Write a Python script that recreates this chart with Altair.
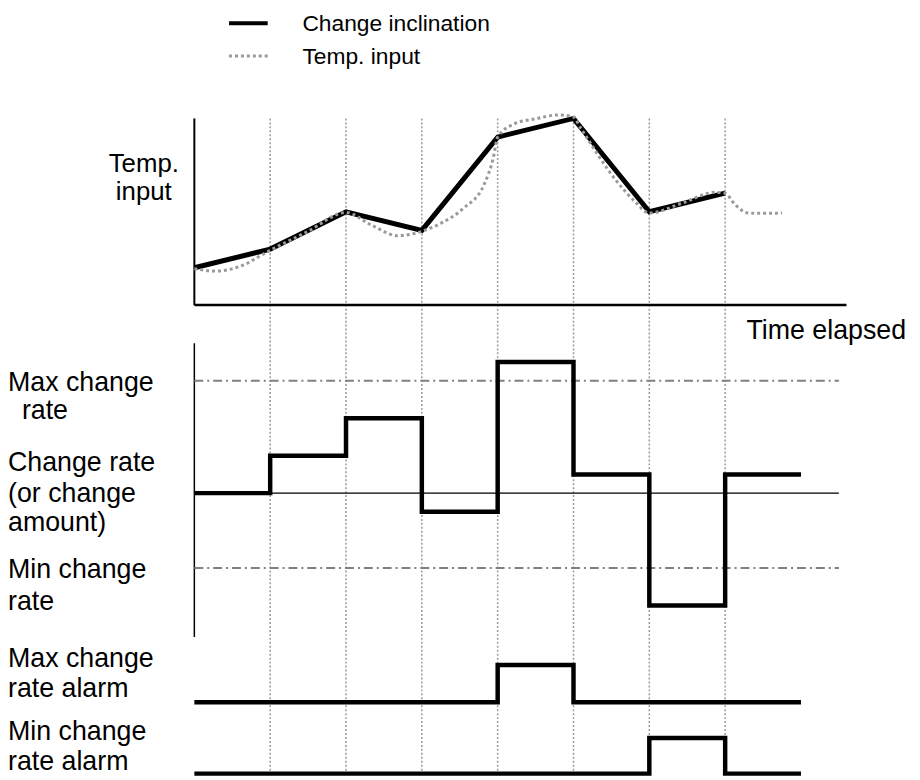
import altair as alt
import pandas as pd

# ---------------- data ----------------
knot_time = [0, 1, 2, 3, 4, 5, 6, 7]
inclination_temp = [20, 30, 50, 40, 90, 100, 50, 60]

input_time = [0, 0.3, 0.61, 1.0, 1.5, 2.0, 2.33, 2.68, 3.0, 3.25, 3.55, 3.82, 3.94, 4.0,
              4.22, 4.5, 4.8, 5.0, 5.1, 5.54, 5.81, 6.0, 6.43, 6.87, 7.0, 7.13, 7.31, 7.5, 7.75]
input_temp = [19.5, 18.2, 20.9, 29.4, 39.5, 49.6, 43.0, 37.2, 39.5, 43.8, 51.9, 64.5, 78.5, 90.0,
              97.1, 99.8, 101.9, 100.7, 94.5, 67.9, 55.5, 49.3, 54.6, 60.4, 59.9, 53.9, 49.3, 49.2, 49.3]

step_time = [0, 1, 2, 3, 4, 5, 6, 7, 8]
change_rate = [0, 1, 2, -0.5, 3.5, 0.5, -3, 0.5, 0.5]
max_alarm = [0, 0, 0, 0, 1, 0, 0, 0, 0]
min_alarm = [0, 0, 0, 0, 0, 0, 1, 0, 0]

max_change_rate = 3
min_change_rate = -2
grid_time = [1, 2, 3, 4, 5, 6, 7]
time_end = 8.5
axis_end = 8.6

legend_labels = ["Change inclination", "Temp. input"]

# ---------------- layout (page px -> plot px) ----------------
OFF = 8
FONT = "Liberation Sans"
FS = 27
FS_LEG = 23
X0 = 196
DX = 76.5


def p(v):
    return v - OFF


xscale = alt.Scale(domain=[0, 8], range=[p(X0), p(X0 + 8 * DX)], nice=False, zero=False)
temp_scale = alt.Scale(domain=[0, 100], range=[p(304.3), p(116)], nice=False, zero=False)
rate_scale = alt.Scale(domain=[-4, 4], range=[p(494 + 4 * 37.77), p(494 - 4 * 37.77)], nice=False, zero=False)
a1_scale = alt.Scale(domain=[0, 1], range=[p(705), p(667.5)], nice=False, zero=False)
a2_scale = alt.Scale(domain=[0, 1], range=[p(777), p(741)], nice=False, zero=False)


def X(f):
    return alt.X(f, type="quantitative", scale=xscale, axis=None)


# grid
grid = alt.Chart(pd.DataFrame({"t": grid_time})).mark_rule(
    color="#9a9a9a", strokeWidth=1.5, strokeDash=[2, 2]
).encode(x=X("t"), y=alt.value(p(116)), y2=alt.value(p(780)))

# top panel
top_yaxis = alt.Chart(pd.DataFrame({"t": [0], "lo": [0], "hi": [100]})).mark_rule(
    color="black", strokeWidth=2).encode(
    x=X("t"), y=alt.Y("lo:Q", scale=temp_scale, axis=None), y2="hi:Q")
top_xaxis = alt.Chart(pd.DataFrame({"t": [0], "t2": [axis_end], "v": [0]})).mark_rule(
    color="black", strokeWidth=2.5).encode(
    x=X("t"), x2="t2:Q", y=alt.Y("v:Q", scale=temp_scale, axis=None))
incl_line = alt.Chart(pd.DataFrame({"t": knot_time, "temp": inclination_temp})).mark_line(
    color="black", strokeWidth=5).encode(
    x=X("t"), y=alt.Y("temp:Q", scale=temp_scale, axis=None))
input_line = alt.Chart(pd.DataFrame({"t": input_time, "temp": input_temp})).mark_line(
    color="#9a9a9a", strokeWidth=3, strokeDash=[3, 3], interpolate="monotone").encode(
    x=X("t"), y=alt.Y("temp:Q", scale=temp_scale, axis=None))

# middle panel
mid_axis = alt.Chart(pd.DataFrame({"t": [0], "lo": [-3.84], "hi": [4.0]})).mark_rule(
    color="black", strokeWidth=1.5).encode(
    x=X("t"), y=alt.Y("lo:Q", scale=rate_scale, axis=None), y2="hi:Q")
limits = alt.Chart(pd.DataFrame({"t": [0, 0], "t2": [time_end, time_end],
                                 "r": [max_change_rate, min_change_rate]})).mark_rule(
    color="#808080", strokeWidth=2, strokeDash=[9, 4, 2, 4]).encode(
    x=X("t"), x2="t2:Q", y=alt.Y("r:Q", scale=rate_scale, axis=None))
zero_line = alt.Chart(pd.DataFrame({"t": [0], "t2": [time_end], "r": [0]})).mark_rule(
    color="black", strokeWidth=1.5).encode(
    x=X("t"), x2="t2:Q", y=alt.Y("r:Q", scale=rate_scale, axis=None))
rate_line = alt.Chart(pd.DataFrame({"t": step_time, "r": change_rate})).mark_line(
    color="black", strokeWidth=4.5, interpolate="step-after").encode(
    x=X("t"), y=alt.Y("r:Q", scale=rate_scale, axis=None))

# alarms
alarm1 = alt.Chart(pd.DataFrame({"t": step_time, "a": max_alarm})).mark_line(
    color="black", strokeWidth=4.5, interpolate="step-after").encode(
    x=X("t"), y=alt.Y("a:Q", scale=a1_scale, axis=None))
alarm2 = alt.Chart(pd.DataFrame({"t": step_time, "a": min_alarm})).mark_line(
    color="black", strokeWidth=4.5, interpolate="step-after").encode(
    x=X("t"), y=alt.Y("a:Q", scale=a2_scale, axis=None))

# legend swatches
leg_black = alt.Chart(pd.DataFrame({"a": [p(231)], "b": [p(270)], "y": [p(20)]})).mark_rule(
    color="black", strokeWidth=4).encode(
    x=alt.X("a:Q", scale=None), x2="b:Q", y=alt.Y("y:Q", scale=None))
leg_gray = alt.Chart(pd.DataFrame({"a": [p(231)], "b": [p(270)], "y": [p(53)]})).mark_rule(
    color="#9a9a9a", strokeWidth=3, strokeDash=[3, 3]).encode(
    x=alt.X("a:Q", scale=None), x2="b:Q", y=alt.Y("y:Q", scale=None))

# texts (page coordinates, alphabetic baseline)
legend_text = [
    (legend_labels[0], 305, 28),
    (legend_labels[1], 305, 61),
]
left_text = [
    ("Time elapsed", 753, 339),
    ("Max change", 8, 391),
    ("rate", 22, 419),
    ("Change rate", 8, 472),
    ("(or change", 8, 503),
    ("amount)", 8, 532),
    ("Min change", 8, 580),
    ("rate", 8, 612),
    ("Max change", 8, 669),
    ("rate alarm", 8, 700),
    ("Min change", 8, 743),
    ("rate alarm", 8, 773),
]
center_text = [
    ("Temp.", 145, 170),
    ("input", 145, 198),
]


def tdf(rows):
    return pd.DataFrame({"txt": [r[0] for r in rows],
                         "px": [p(r[1]) for r in rows],
                         "py": [p(r[2]) for r in rows]})


def text_layer(rows, align, size):
    return alt.Chart(tdf(rows)).mark_text(align=align, baseline="alphabetic", font=FONT,
                                          fontSize=size, color="black").encode(
        x=alt.X("px:Q", scale=None), y=alt.Y("py:Q", scale=None), text="txt:N")


chart = alt.layer(
    grid,
    top_yaxis, top_xaxis, incl_line, input_line,
    mid_axis, limits, zero_line, rate_line,
    alarm1, alarm2,
    leg_black, leg_gray,
    text_layer(legend_text, "left", FS_LEG),
    text_layer(left_text, "left", FS),
    text_layer(center_text, "center", 26),
).resolve_scale(y="independent", x="shared").properties(
    width=912, height=772, padding=0,
    autosize=alt.AutoSizeParams(type="none"),
).configure_view(stroke=None)

chart.save("out.html", embed_options={"renderer": "svg", "actions": False})
